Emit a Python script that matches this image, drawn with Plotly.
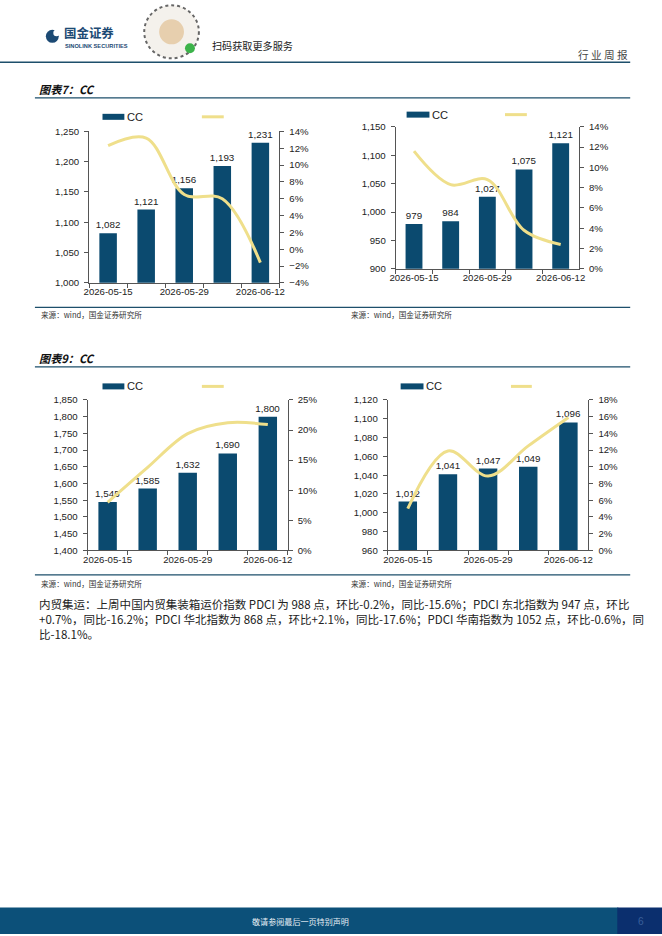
import plotly.graph_objects as go

W, H = 662, 936

# datos
fechas = ['2026-05-15', '2026-05-22', '2026-05-29', '2026-06-05', '2026-06-12']
etiquetas_x = ['2026-05-15', '', '2026-05-29', '', '2026-06-12']

cc_1 = [1082, 1121, 1156, 1193, 1231]
yoy_1 = [12.3, 13.2, 6.5, 6.0, -1.6]

cc_2 = [979, 984, 1027, 1075, 1121]
yoy_2 = [11.6, 8.3, 8.8, 3.8, 2.4]

cc_3 = [1545, 1585, 1632, 1690, 1800]
yoy_3 = [8.0, 13.8, 19.4, 21.2, 20.9]

cc_4 = [1012, 1041, 1047, 1049, 1096]
yoy_4 = [5.0, 11.9, 8.9, 12.5, 15.9]

rango_izq = [[1000, 1250, 50], [900, 1150, 50], [1400, 1850, 50], [960, 1120, 20]]
rango_der = [[-4, 14, 2], [0, 14, 2], [0, 25, 5], [0, 18, 2]]

AZUL = '#0b4a6f'
AMARILLO = '#efdf8b'
LINEA = '#1d4f6b'
TXT = '#222222'

# la captura sale algo reducida y desplazada; se compensa aqui
OX, OY, S = 3.9, 5.7, 0.988


def px(x):
    return (x - OX) / S / W


def py(y):
    return 1 - (y - OY) / S / H


def fs(s):
    return s / S


# posiciones de cada grafico en pixeles: x0, x1, y_top, y_bottom
cajas = [
    (87.5, 279, 131, 282.5),
    (396, 580.5, 126.5, 268.5),
    (86, 287.5, 399.5, 550),
    (388, 590, 399.5, 550),
]

fig = go.Figure()
series = [(cc_1, yoy_1), (cc_2, yoy_2), (cc_3, yoy_3), (cc_4, yoy_4)]

for i, (cc, yoy) in enumerate(series):
    xa = 'x' if i == 0 else f'x{i + 1}'
    ya_l = 'y' if i == 0 else f'y{2 * i + 1}'
    ya_r = f'y{2 * i + 2}'

    fig.add_trace(go.Bar(
        x=fechas, y=cc, xaxis=xa, yaxis=ya_l,
        marker=dict(color=AZUL, line=dict(width=0)),
        text=cc, texttemplate='%{y:,}', textposition='outside',
        constraintext='none',
        textfont=dict(family='Liberation Sans', size=fs(9.7), color=TXT),
        cliponaxis=False, showlegend=False, name='CC'
    ))
    fig.add_trace(go.Scatter(
        x=fechas, y=yoy, xaxis=xa, yaxis=ya_r,
        mode='lines', line=dict(color=AMARILLO, width=3, shape='spline', smoothing=1.0),
        showlegend=False, cliponaxis=False
    ))

    x0, x1, yt, yb = cajas[i]
    eje = dict(
        showline=True, linecolor='#555555', linewidth=1,
        ticks='outside', ticklen=4, tickcolor='#555555',
        showgrid=False, zeroline=False,
        tickfont=dict(family='Liberation Sans', size=fs(9.5), color=TXT),
    )
    lo, hi, paso = rango_izq[i]
    rlo, rhi, rpaso = rango_der[i]
    key_x = 'xaxis' if i == 0 else f'xaxis{i + 1}'
    key_yl = 'yaxis' if i == 0 else f'yaxis{2 * i + 1}'
    key_yr = f'yaxis{2 * i + 2}'
    fig.update_layout(**{
        key_x: dict(eje, type='category', domain=[px(x0), px(x1)],
                    anchor=ya_l, tickvals=fechas, ticktext=etiquetas_x,
                    tickson='boundaries', tickangle=0),
        key_yl: dict(eje, domain=[py(yb), py(yt)], anchor=xa,
                     range=[lo, hi], dtick=paso, tickformat=',d', ticklabelstandoff=3),
        key_yr: dict(eje, overlaying=ya_l, side='right', anchor=xa,
                     range=[rlo, rhi], dtick=rpaso, ticksuffix='%', ticklabelstandoff=3),
    })

shapes = []
annotations = []


def texto(t, x, y, size, color, family='Noto Sans CJK SC', xanchor='left'):
    annotations.append(dict(text=t, x=px(x), y=py(y), xref='paper', yref='paper',
                            xanchor=xanchor, yanchor='middle', showarrow=False,
                            font=dict(family=family, size=fs(size), color=color)))


def forma(tipo, x0, x1, y0, y1, **kw):
    shapes.append(dict(type=tipo, xref='paper', yref='paper',
                       x0=px(x0), x1=px(x1), y0=py(y0), y1=py(y1), **kw))


# cabecera
forma('line', -5, 632, 62, 62, line=dict(color=LINEA, width=1.5))
forma('circle', 44, 57, 42.5, 29.5, fillcolor='#1c4a74', line=dict(width=0))
forma('circle', 51.5, 58, 36, 29.5, fillcolor='white', line=dict(width=0))
texto('<b>国金证券</b>', 60, 32.6, 12.3, '#1c4a74')
texto('<b>SINOLINK SECURITIES</b>', 61, 45.4, 5.6, '#1c4a74', family='Liberation Sans')
# codigo QR aproximado
forma('circle', 143, 198, 58, 5, fillcolor='#f4f1ec', line=dict(color='#666666', width=2, dash='dot'))
forma('circle', 158, 183, 44, 19, fillcolor='#e7cfae', line=dict(width=0))
forma('circle', 184, 194, 53, 43, fillcolor='#3cb34a', line=dict(width=0))
texto('扫码获取更多服务', 209, 45, 10, '#222222')
texto('行 业 周 报', 632, 54, 10.5, '#444444', xanchor='right')

# titulos y fuentes
for titulo, y_t, y_l, y_f, y_s in [('图表7：CC', 89, 97.5, 307, 314.5), ('图表9：CC', 357.5, 366.5, 574.5, 583)]:
    texto(f'<b><i>{titulo}</i></b>', 35, y_t, 11, '#111111')
    forma('line', 33, 632, y_l, y_l, line=dict(color=LINEA, width=1.3))
    forma('line', 33, 632, y_f, y_f, line=dict(color=LINEA, width=1.3))
    for xf in [37, 349]:
        texto('来源：wind，国金证券研究所', xf, y_s, 7.5, '#333333')

# leyendas
leyendas = [(101, 123, 201, 223, 116.5), (407, 430, 506, 528, 114.3),
            (101, 123, 201, 223, 386), (401, 424, 512, 533, 386)]
for bx0, bx1, lx0, lx1, ly in leyendas:
    forma('rect', bx0, bx1, ly + 3, ly - 3, fillcolor=AZUL, line=dict(width=0))
    forma('line', lx0, lx1, ly, ly, line=dict(color=AMARILLO, width=3))
    texto('CC', bx1 + 1, ly, 11, TXT, family='Liberation Sans')

# texto
lineas = [
    '内贸集运：上周中国内贸集装箱运价指数 PDCI 为 988 点，环比-0.2%，同比-15.6%；PDCI 东北指数为 947 点，环比',
    '+0.7%，同比-16.2%；PDCI 华北指数为 868 点，环比+2.1%，同比-17.6%；PDCI 华南指数为 1052 点，环比-0.6%，同',
    '比-18.1%。',
]
for k, linea in enumerate(lineas):
    texto(linea, 35, 604 + 14.6 * k, 11.4, '#222222')

# pie de pagina
forma('rect', -5, 620, 933.5, 907, fillcolor='#0c5079', line=dict(width=0))
forma('rect', 619, 670, 933.5, 907, fillcolor='#0b2f6e', line=dict(width=0))
texto('敬请参阅最后一页特别声明', 300, 920.5, 8, '#e6eef4', xanchor='center')
texto('6', 643, 920.5, 10, '#3a5f9a', family='Liberation Sans', xanchor='center')

fig.update_layout(
    width=W, height=H,
    margin=dict(l=0, r=0, t=0, b=0),
    paper_bgcolor='white', plot_bgcolor='white',
    bargap=0.54, showlegend=False, hovermode=False,
    shapes=shapes, annotations=annotations,
)

# la figura fija en la esquina de la ventana, sin margen ni scroll
fijar = ("var d=document.getElementById('{plot_id}');"
         "d.style.position='fixed';d.style.top='0px';d.style.left='0px';"
         "document.body.style.margin='0';"
         "document.documentElement.style.overflow='hidden';"
         "document.body.style.overflow='hidden';")
fig.write_html('out.html', config={'displayModeBar': False}, post_script=fijar)
